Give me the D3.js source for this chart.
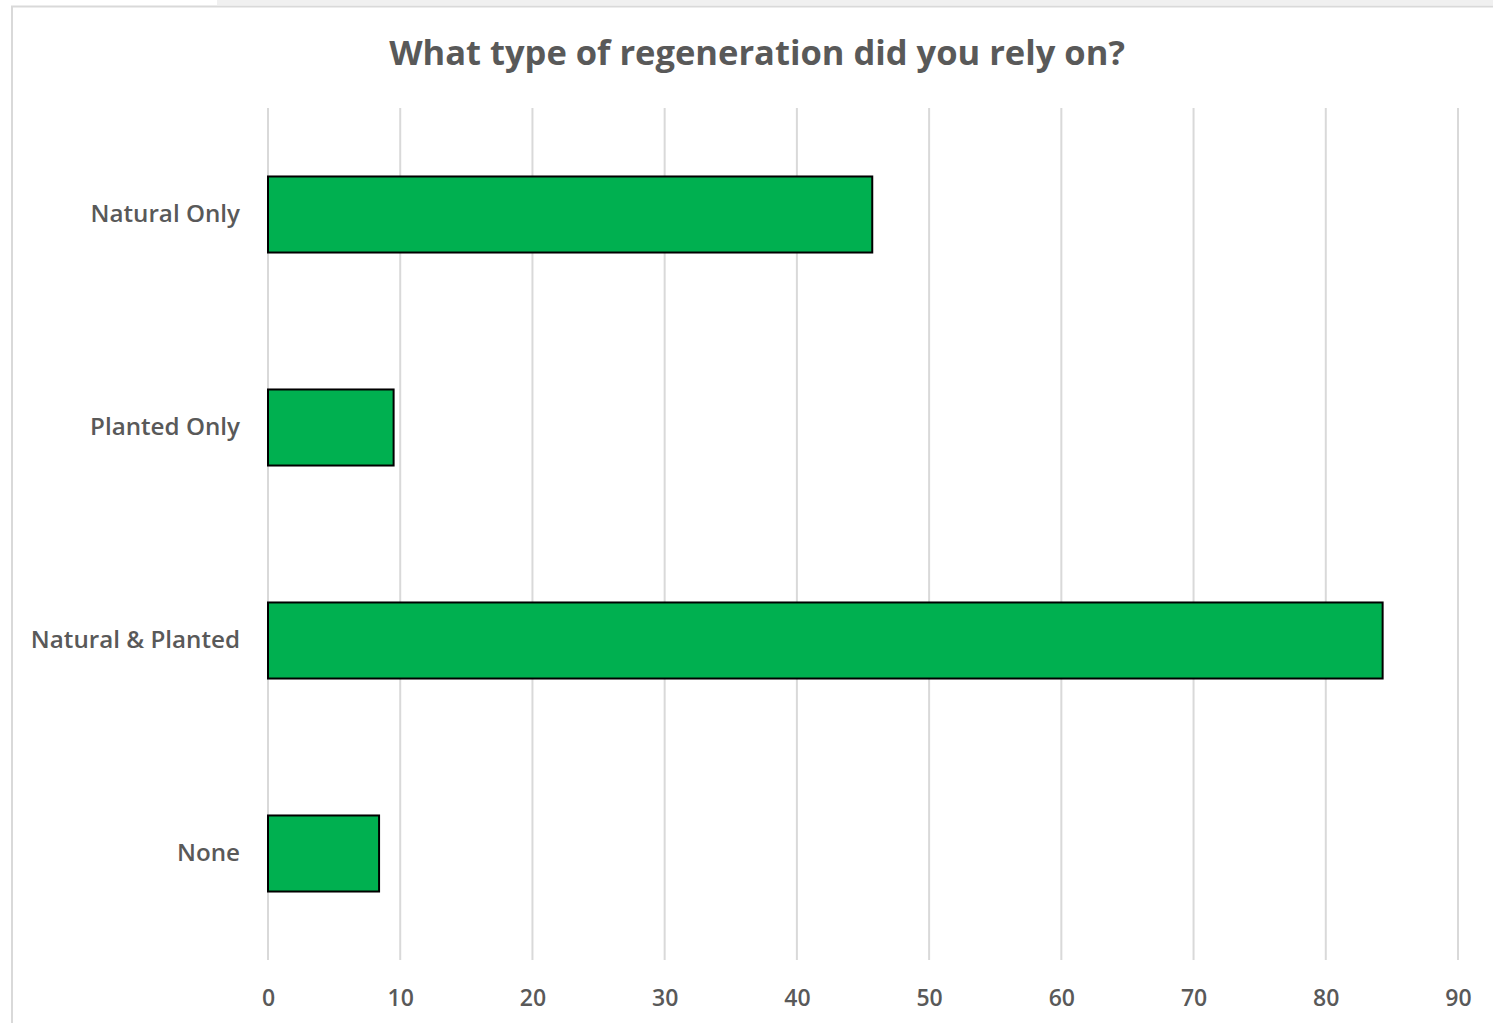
<!DOCTYPE html>
<html><head><meta charset="utf-8">
<script src="https://cdn.jsdelivr.net/npm/d3@7"></script>
<style>body{margin:0;background:#fff;}svg{display:block;}</style>
</head><body>
<svg id="c" width="1493" height="1023"></svg>
<script>
const categories = ["Natural Only", "Planted Only", "Natural & Planted", "None"];
const values = [45.7, 9.5, 84.3, 8.4];
const xTicks = [0, 10, 20, 30, 40, 50, 60, 70, 80, 90];
const title = "What type of regeneration did you rely on?";

(function () {
const svg = d3.select("#c");
const font = "'Open Sans', sans-serif";
// page decorations
svg.append("rect").attr("x", 217).attr("y", 0).attr("width", 1276).attr("height", 5).attr("fill", "#f0f0f0");
svg.append("rect").attr("x", 12).attr("y", 6.5).attr("width", 1500).attr("height", 1030)
  .attr("fill", "#fff").attr("stroke", "#d9d9d9").attr("stroke-width", 2);

const mLeft = 268, mRight = 1458, mTop = 108, mBottom = 960;
const x = d3.scaleLinear().domain([0, 90]).range([mLeft, mRight]);
const y = d3.scaleBand().domain(categories).range([mTop, mBottom]).paddingInner(0.643).paddingOuter(0.3215);

svg.append("g").selectAll("line").data(xTicks).join("line")
  .attr("x1", d => x(d)).attr("x2", d => x(d)).attr("y1", mTop).attr("y2", mBottom)
  .attr("stroke", "#d9d9d9").attr("stroke-width", 2);

svg.append("g").selectAll("rect").data(values).join("rect")
  .attr("x", x(0)).attr("y", (d, i) => y(categories[i]))
  .attr("width", d => x(d) - x(0)).attr("height", y.bandwidth())
  .attr("fill", "#00b050").attr("stroke", "#000").attr("stroke-width", 2);

const xAxis = d3.axisBottom(x).tickValues(xTicks).tickSize(0).tickPadding(0);
const gx = svg.append("g").attr("transform", `translate(0,${mBottom})`).call(xAxis);
gx.select(".domain").remove();
gx.selectAll("text").attr("y", 46).attr("dy", 0).attr("font-size", 23).attr("font-weight", 600)
  .attr("font-family", font).attr("fill", "#595959");

const yAxis = d3.axisLeft(y).tickSize(0).tickPadding(28);
const gy = svg.append("g").attr("transform", `translate(${mLeft},0)`).call(yAxis);
gy.select(".domain").remove();
gy.selectAll("text").attr("font-size", 24.2).attr("font-weight", 600)
  .attr("font-family", font).attr("fill", "#595959");

svg.append("text").attr("x", 757).attr("y", 65).attr("text-anchor", "middle")
  .attr("font-size", 34.5).attr("font-weight", 700).attr("font-family", font)
  .attr("fill", "#595959").text(title);
})();
</script>
</body></html>
